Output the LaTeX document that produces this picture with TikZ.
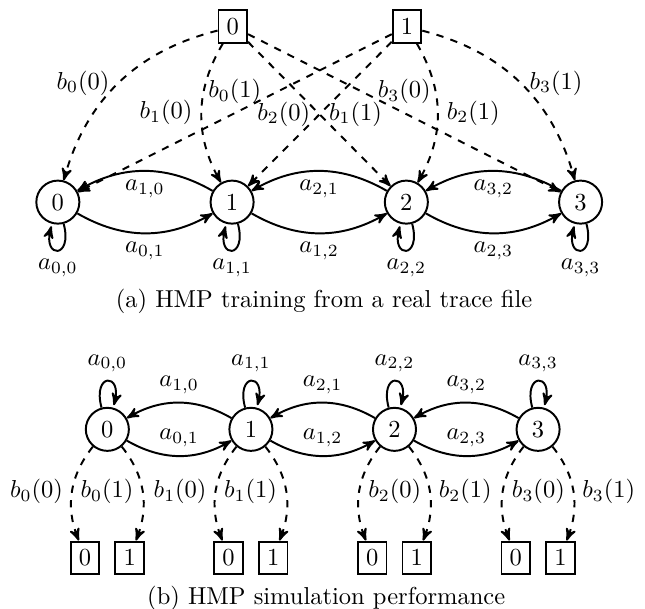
\documentclass[tikz,border=0pt]{standalone}
\usetikzlibrary{arrows}
\begin{document}
\begin{tikzpicture}[>=stealth',x=1cm,y=1cm,thick,
	state/.style={circle,draw},
	sym/.style={rectangle,draw},
	emit/.style={->,dashed}]
	\useasboundingbox (0,0) rectangle (9.254,-8.737);
	% (a) training: symbols on top, states in a row
	\node[sym] (u0) at (3.34,-0.38) {$0$};
	\node[sym] (u1) at (5.84,-0.38) {$1$};
	\foreach \i in {0,...,3}
		\node[state] (p\i) at (0.83+2.5*\i,-2.9) {$\i$};
	\foreach \i/\j in {0/1,1/2,2/3}{
		\draw[->] (p\i) to[bend right] node[below] {$a_{\i,\j}$} (p\j);
		\draw[->] (p\j) to[bend right] node[below] {$a_{\j,\i}$} (p\i);
	}
	\foreach \i in {0,...,3}
		\draw[->] (p\i) edge[loop below] node {$a_{\i,\i}$} ();
	\draw[emit] (u0) to[bend right] node[left] {$b_0(0)$} (p0);
	\draw[emit] (u0) to[bend right] node[left] {$b_1(0)$} (p1);
	\draw[emit] (u0) -- node[left] {$b_2(0)$} (p2);
	\draw[emit] (u0) -- node[above] {$b_3(0)$} (p3);
	\draw[emit] (u1) -- node[above] {$b_0(1)$} (p0);
	\draw[emit] (u1) -- node[right] {$b_1(1)$} (p1);
	\draw[emit] (u1) to[bend left] node[right] {$b_2(1)$} (p2);
	\draw[emit] (u1) to[bend left] node[right] {$b_3(1)$} (p3);
	\node (capa) at (4.65,-4.33) {(a) HMP training from a real trace file};
	% (b) simulation: each state emits into its own pair of symbols
	\foreach \i/\side in {0/left,1/left,2/right,3/right}{
		\node[state] (q\i) at (1.54+2.06*\i,-6.16) {$\i$};
		\node[sym] (q\i0) at (1.22+2.06*\i,-8.0) {$0$};
		\node[sym] (q\i1) at (1.86+2.06*\i,-8.0) {$1$};
		\draw[emit] (q\i) to[bend right] node[\side] {$b_\i(0)$} (q\i0);
		\draw[emit] (q\i) to[bend left] node[\side] {$b_\i(1)$} (q\i1);
		\draw[->] (q\i) edge[loop above] node {$a_{\i,\i}$} ();
	}
	\foreach \i/\j in {0/1,1/2,2/3}{
		\draw[->] (q\i) to[bend right] node[above] {$a_{\i,\j}$} (q\j);
		\draw[->] (q\j) to[bend right] node[above] {$a_{\j,\i}$} (q\i);
	}
	\node (capb) at (4.68,-8.58) {(b) HMP simulation performance};
\end{tikzpicture}
\end{document}
